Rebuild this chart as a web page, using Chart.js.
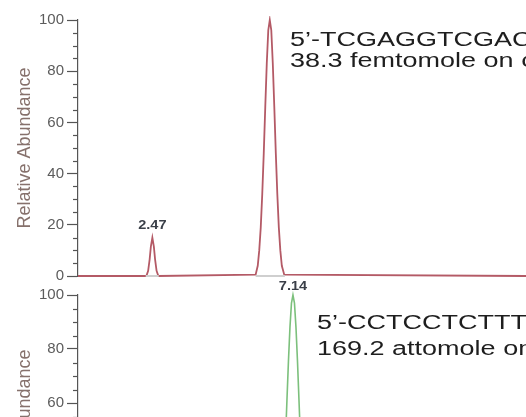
<!DOCTYPE html>
<html>
<head>
<meta charset="utf-8">
<script src="https://cdn.jsdelivr.net/npm/chart.js@4"></script>
<style>
	html, body { margin: 0; padding: 0; background: #fff; overflow: hidden; width: 526px; height: 417px; }
	.panel { position: absolute; left: 0; width: 526px; }
	#top_panel { top: 0; height: 290px; }
	#bottom_panel { top: 280px; height: 300px; }
</style>
</head>
<body>
<div class="panel" id="top_panel"><canvas id="trace_top"></canvas></div>
<div class="panel" id="bottom_panel"><canvas id="trace_bottom"></canvas></div>
<script>
// retention time (min) / relative abundance (%)
const timeMax = 14.88;
const yTicks = [0, 20, 40, 60, 80, 100];

const topTimes = [0, 2.27, 2.33, 2.38, 2.42, 2.47, 2.52, 2.56, 2.61, 2.67,
	5.90, 5.97, 6.02, 6.07, 6.12, 6.17, 6.22, 6.27, 6.32, 6.37, 6.42, 6.47, 6.52, 6.57, 6.62, 6.67, 6.72, 6.77, 6.85, 14.88];
const topAbund = [0, 0, 2, 6.5, 11.5, 15, 11.5, 6.5, 2, 0,
	0.5, 4, 10, 19, 32, 48, 66, 83, 96, 100, 96, 83, 66, 48, 32, 19, 10, 4, 0.5, 0];

const bottomTimes = [0, 6.54, 6.64, 6.74, 6.84, 6.89, 6.94, 6.99, 7.04, 7.09, 7.14, 7.19, 7.24, 7.29, 7.34, 7.39, 7.44, 7.54, 7.64, 7.74, 14.88];
const bottomAbund = [0, 1, 4.5, 13.5, 32.5, 46, 61, 75.5, 88, 97, 100, 97, 88, 75.5, 61, 46, 32.5, 13.5, 4.5, 1, 0];

// integration baselines under the peaks (null = gap)
const baseTimes = [2.25, 2.68, 4.0, 5.90, 6.87];
const baseAbund = [0, 0, null, 0, 0];

const topLabel = { t: 2.47, v: 15, text: '2.47' };
const bottomLabel = { t: 7.14, v: 100, text: '7.14' };
const topNotes = ['5\u2019-TCGAGGTCGAC', '38.3 femtomole on column'];
const bottomNotes = ['5\u2019-CCTCCTCTTTT', '169.2 attomole on column'];

const FONT = "'Liberation Sans', Arial, sans-serif";

const toPoints = (ts, vs) => ts.map((t, i) => ({ x: t, y: vs[i] }));

// minor ticks every 5 %, peak label, sequence text
const decor = {
	id: 'decor',
	afterDraw(chart, args, opts) {
		const ctx = chart.ctx;
		const y = chart.scales.y;
		const x = chart.scales.x;
		const left = chart.chartArea.left;
		ctx.save();
		ctx.strokeStyle = '#555';
		ctx.lineWidth = 1.2;
		for (let v = 0; v <= 100; v += 5) {
			if (v % 20 === 0) continue;
			const py = Math.round(y.getPixelForValue(v)) + 0.5;
			ctx.beginPath();
			ctx.moveTo(left - 5, py);
			ctx.lineTo(left, py);
			ctx.stroke();
		}
		// peak label
		const lx = x.getPixelForValue(opts.label.t);
		const ly = y.getPixelForValue(opts.label.v) - opts.labelGap;
		ctx.save();
		ctx.translate(lx, ly);
		ctx.scale(1.12, 1);
		ctx.fillStyle = '#3a3f48';
		ctx.font = 'bold 13px ' + FONT;
		ctx.textAlign = 'center';
		ctx.textBaseline = 'alphabetic';
		ctx.fillText(opts.label.text, 0, 0);
		ctx.restore();
		// sequence + amount
		opts.notes.forEach((s, i) => {
			ctx.save();
			ctx.translate(opts.noteX, opts.noteY + i * opts.lineGap);
			ctx.scale(1.35, 1);
			ctx.fillStyle = '#1e1e1e';
			ctx.font = '20px ' + FONT;
			ctx.textAlign = 'left';
			ctx.textBaseline = 'alphabetic';
			ctx.fillText(s, 0, 0);
			ctx.restore();
		});
		ctx.restore();
	}
};

const makeChart = (id, datasets, pad, decorOpts) => {
	const config = {
		type: 'line',
		data: { datasets: datasets },
		options: {
			responsive: true,
			maintainAspectRatio: false,
			animation: false,
			layout: { padding: { top: pad.top, bottom: pad.bottom, left: 0, right: 0 } },
			scales: {
				x: {
					type: 'linear',
					min: 0,
					max: timeMax,
					display: false
				},
				y: {
					min: 0,
					max: 100,
					afterFit: (scale) => { scale.width = 78; },
					afterBuildTicks: (scale) => { scale.ticks = yTicks.map(v => ({ value: v })); },
					border: { display: true, color: '#555', width: 1.2 },
					grid: { drawOnChartArea: false, drawTicks: true, tickLength: 11, tickColor: '#555', tickWidth: 1.2 },
					ticks: {
						padding: 3,
						color: '#5c5c5c',
						font: { family: FONT, size: 15 }
					},
					title: {
						display: true,
						text: 'Relative Abundance',
						color: '#86716c',
						font: { family: FONT, size: 18 },
						padding: { top: 14, bottom: 0 }
					}
				}
			},
			plugins: {
				legend: { display: false },
				tooltip: { enabled: false },
				decor: decorOpts
			},
			elements: { point: { radius: 0 }, line: { tension: 0 } }
		},
		plugins: [decor]
	};
	var ctx = document.getElementById(id);
	if (ctx != null) {
		const chart = new Chart(ctx, config);
		return chart;
	}
};

const edgeClip = { left: 0, top: 4, right: 0, bottom: 4 };

makeChart('trace_top', [
	{
		data: toPoints(baseTimes, baseAbund),
		borderColor: '#cfcfcf',
		borderWidth: 2.2,
		spanGaps: false,
		clip: edgeClip,
		order: 0
	},
	{
		data: toPoints(topTimes, topAbund),
		borderColor: '#b45a66',
		borderWidth: 1.8,
		fill: false,
		clip: edgeClip,
		order: 1
	}
], { top: 20, bottom: 14 }, { label: topLabel, labelGap: 9, notes: topNotes, noteX: 290, noteY: 46, lineGap: 21 });

makeChart('trace_bottom', [
	{
		data: toPoints(bottomTimes, bottomAbund),
		borderColor: '#7cc07c',
		borderWidth: 1.6,
		fill: false,
		clip: edgeClip
	}
], { top: 15, bottom: 15 }, { label: bottomLabel, labelGap: 5, notes: bottomNotes, noteX: 317, noteY: 49, lineGap: 26 });
</script>
</body>
</html>
